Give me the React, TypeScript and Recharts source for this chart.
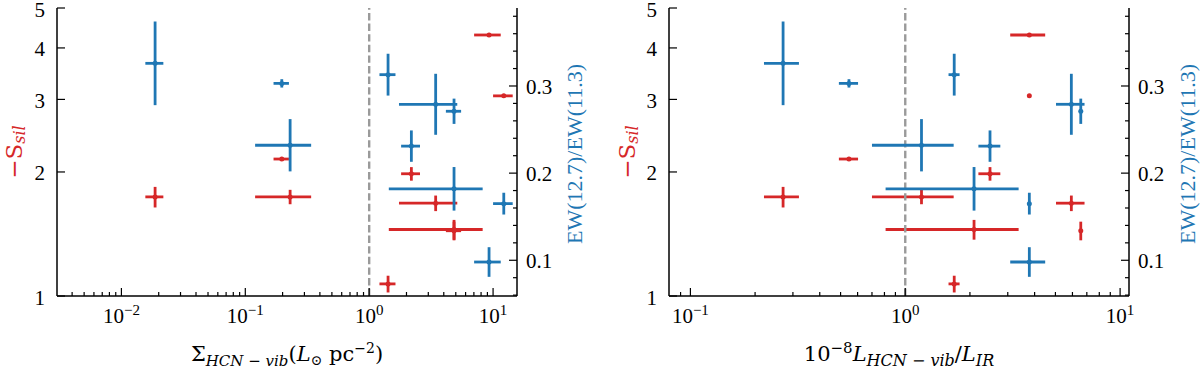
import { ErrorBar, ReferenceLine, Scatter, ScatterChart, XAxis, YAxis } from "recharts";

const RED = "#d62728";
const BLUE = "#1f77b4";
const TICK_FONT = "'Liberation Serif', 'Times New Roman', serif";
const MATH_FONT = "'DejaVu Serif', serif";

// ten sources, same order in every array
const sigmaHCN = [0.0187, 0.197, 0.23, 1.42, 2.19, 3.44, 4.84, 4.84, 9.28, 12.2];
const sigmaErr = [0.0031, 0.028, 0.11, 0.21, 0.38, 1.7, 3.4, 0.68, 2.25, 2.2];
const lumRatio = [0.27, 0.547, 1.19, 1.69, 2.48, 5.93, 2.09, 6.56, 3.78, 3.78];
const lumErr = [0.05, 0.056, 0.49, 0.1, 0.29, 0.9, 1.28, 0.08, 0.7, 0];
const ssil = [1.74, 2.15, 1.74, 1.07, 1.98, 1.68, 1.45, 1.44, 4.3, 3.06];
const ssilErr = [0.1, 0.01, 0.07, 0.05, 0.075, 0.073, 0.08, 0.075, 0.01, 0.01];
const ewRatio = [0.326, 0.303, 0.232, 0.313, 0.231, 0.279, 0.182, 0.271, 0.098, 0.165];
const ewErr = [0.048, 0.0048, 0.03, 0.024, 0.018, 0.035, 0.025, 0.0145, 0.017, 0.0125];

// tick positions
const sigmaTicks = [
  0.004, 0.005, 0.006, 0.007, 0.008, 0.009, 0.01,
  0.02, 0.03, 0.04, 0.05, 0.06, 0.07, 0.08, 0.09, 0.1,
  0.2, 0.3, 0.4, 0.5, 0.6, 0.7, 0.8, 0.9, 1,
  2, 3, 4, 5, 6, 7, 8, 9, 10,
];
const lumTicks = [
  0.09, 0.1, 0.2, 0.3, 0.4, 0.5, 0.6, 0.7, 0.8, 0.9, 1,
  2, 3, 4, 5, 6, 7, 8, 9, 10,
];
const ssilTicks = [1, 2, 3, 4, 5];
const ewTicks = [
  0.06, 0.08, 0.1, 0.12, 0.14, 0.16, 0.18, 0.2, 0.22, 0.24, 0.26, 0.28, 0.3,
  0.32, 0.34, 0.36, 0.38,
];
const ewLabelled = [0.1, 0.2, 0.3];

const sigmaDomain = [0.00302, 15.6];
const lumDomain = [0.0795, 11];
const ssilDomain = [1, 5];
const ewDomain = [0.059, 0.3895];

const isDecade = (v: number) => Math.abs(Math.log10(v) - Math.round(Math.log10(v))) < 1e-6;
const expText = (v: number) => {
  const e = Math.round(Math.log10(v));
  return e < 0 ? `\u2212${-e}` : `${e}`;
};

function BottomTick(props: any) {
  const { x, y, payload } = props;
  const major = isDecade(payload.value);
  return (
    <g>
      <line x1={x} x2={x} y1={y} y2={y - (major ? 8 : 4)} stroke="#000" strokeWidth={1.2} />
      {major && (
        <text x={x} y={y + 27} textAnchor="middle" fontFamily={TICK_FONT} fontSize={21} fill="#000">
          10
          <tspan dy={-8} fontSize={15}>
            {expText(payload.value)}
          </tspan>
        </text>
      )}
    </g>
  );
}

function TopTick(props: any) {
  const { x, y, payload } = props;
  const major = isDecade(payload.value);
  return <line x1={x} x2={x} y1={y} y2={y + (major ? 8 : 4)} stroke="#000" strokeWidth={1.2} />;
}

function LeftTick(props: any) {
  const { x, y, payload } = props;
  return (
    <g>
      <line x1={x} x2={x + 8} y1={y} y2={y} stroke="#000" strokeWidth={1.2} />
      <text x={x - 12} y={y} dy={8.5} textAnchor="end" fontFamily={TICK_FONT} fontSize={21} fill="#000">
        {payload.value}
      </text>
    </g>
  );
}

function RightTick(props: any) {
  const { x, y, payload } = props;
  const major = ewLabelled.some((t) => Math.abs(t - payload.value) < 1e-9);
  return (
    <g>
      <line x1={x} x2={x - (major ? 8 : 4)} y1={y} y2={y} stroke="#000" strokeWidth={1.2} />
      {major && (
        <text x={x + 9} y={y} dy={8} textAnchor="start" fontFamily={TICK_FONT} fontSize={21} fill="#000">
          {payload.value.toFixed(1)}
        </text>
      )}
    </g>
  );
}

const dot = (color: string) => (p: any) => <circle cx={p.cx} cy={p.cy} r={2.5} fill={color} />;

function SsilTitle({ viewBox, offset }: any) {
  const cx = viewBox.x + offset;
  const cy = viewBox.y + viewBox.height / 2;
  return (
    <text
      x={cx}
      y={cy}
      transform={`rotate(-90 ${cx} ${cy})`}
      textAnchor="middle"
      dominantBaseline="central"
      fontFamily={MATH_FONT}
      fontSize={23}
      fill={RED}
    >
      {"\u2212S"}
      <tspan dy={5} fontSize={16} fontStyle="italic">
        sil
      </tspan>
    </text>
  );
}

function EwTitle({ viewBox, offset }: any) {
  const cx = viewBox.x + offset;
  const cy = viewBox.y + viewBox.height / 2 + 2;
  return (
    <text
      x={cx}
      y={cy}
      transform={`rotate(-90 ${cx} ${cy})`}
      textAnchor="middle"
      dominantBaseline="central"
      fontFamily={TICK_FONT}
      fontSize={22}
      fill={BLUE}
    >
      EW(12.7)/EW(11.3)
    </text>
  );
}

function SigmaTitle({ viewBox }: any) {
  return (
    <text x={viewBox.x + viewBox.width / 2} y={viewBox.y + 65} textAnchor="middle" fontFamily={MATH_FONT} fontSize={21} fill="#000">
      {"\u03a3"}
      <tspan dy={5} fontSize={15} fontStyle="italic">
        {"HCN \u2212 vib"}
      </tspan>
      <tspan dy={-5}>(</tspan>
      <tspan fontStyle="italic">L</tspan>
      <tspan dy={4} fontSize={14}>
        {"\u2299"}
      </tspan>
      <tspan dy={-4}> pc</tspan>
      <tspan dy={-8} fontSize={14}>
        {"\u22122"}
      </tspan>
      <tspan dy={8}>)</tspan>
    </text>
  );
}

function LumTitle({ viewBox }: any) {
  return (
    <text x={viewBox.x + viewBox.width / 2} y={viewBox.y + 65} textAnchor="middle" fontFamily={MATH_FONT} fontSize={21} fill="#000">
      10
      <tspan dy={-8} fontSize={15}>
        {"\u22128"}
      </tspan>
      <tspan dy={8} fontStyle="italic">
        L
      </tspan>
      <tspan dy={5} fontSize={16} fontStyle="italic">
        {"HCN \u2212 vib"}
      </tspan>
      <tspan dy={-5}>/</tspan>
      <tspan fontStyle="italic">L</tspan>
      <tspan dy={5} fontSize={16} fontStyle="italic">
        IR
      </tspan>
    </text>
  );
}

interface PanelProps {
  xs: number[];
  xErr: number[];
  xDomain: number[];
  xTicks: number[];
  leftWidth: number;
  rightWidth: number;
  leftTitleOffset: number;
  rightTitleOffset: number;
  XTitle: (p: any) => any;
}

function Panel({ xs, xErr, xDomain, xTicks, leftWidth, rightWidth, leftTitleOffset, rightTitleOffset, XTitle }: PanelProps) {
  const redData = xs.map((x, i) => ({ x, y: ssil[i], ex: xErr[i], ey: ssilErr[i] }));
  const blueData = xs.map((x, i) => ({ x, y: ewRatio[i], ex: xErr[i], ey: ewErr[i] }));
  const axisLine = { stroke: "#000", strokeWidth: 1.5 };

  return (
    <ScatterChart width={600} height={370} margin={{ top: 8, right: 0, bottom: 0, left: 0 }}>
      <XAxis
        xAxisId="main"
        dataKey="x"
        type="number"
        scale="log"
        domain={xDomain}
        allowDataOverflow
        ticks={xTicks}
        interval={0}
        tickSize={0}
        tickMargin={0}
        tick={BottomTick}
        axisLine={axisLine}
        height={74}
        label={(p: any) => <XTitle {...p} />}
      />
      <XAxis
        xAxisId="top"
        orientation="top"
        type="number"
        scale="log"
        domain={xDomain}
        allowDataOverflow
        ticks={xTicks}
        interval={0}
        tickSize={0}
        tickMargin={0}
        tick={TopTick}
        axisLine={axisLine}
        height={0}
      />
      <YAxis
        yAxisId="left"
        dataKey="y"
        type="number"
        scale="log"
        domain={ssilDomain}
        allowDataOverflow
        ticks={ssilTicks}
        interval={0}
        tickSize={0}
        tickMargin={0}
        tick={LeftTick}
        axisLine={axisLine}
        width={leftWidth}
        label={(p: any) => <SsilTitle {...p} offset={leftTitleOffset} />}
      />
      <YAxis
        yAxisId="right"
        orientation="right"
        dataKey="y"
        type="number"
        domain={ewDomain}
        allowDataOverflow
        ticks={ewTicks}
        interval={0}
        tickSize={0}
        tickMargin={0}
        tick={RightTick}
        axisLine={axisLine}
        width={rightWidth}
        label={(p: any) => <EwTitle {...p} offset={rightTitleOffset} />}
      />
      <Scatter
        data={redData}
        xAxisId="main"
        yAxisId="left"
        fill={RED}
        shape={dot(RED)}
        isAnimationActive={false}
      >
        <ErrorBar dataKey="ex" direction="x" width={0} stroke={RED} strokeWidth={2.8} />
        <ErrorBar dataKey="ey" direction="y" width={0} stroke={RED} strokeWidth={2.8} />
      </Scatter>
      <ReferenceLine
        x={1}
        xAxisId="main"
        yAxisId="left"
        stroke="#9a9a9a"
        strokeWidth={2.4}
        strokeDasharray="7.4 3.2"
      />
      <Scatter
        data={blueData}
        xAxisId="main"
        yAxisId="right"
        fill={BLUE}
        shape={dot(BLUE)}
        isAnimationActive={false}
      >
        <ErrorBar dataKey="ex" direction="x" width={0} stroke={BLUE} strokeWidth={2.8} />
        <ErrorBar dataKey="ey" direction="y" width={0} stroke={BLUE} strokeWidth={2.8} />
      </Scatter>
    </ScatterChart>
  );
}

export default function App() {
  return (
    <div style={{ display: "flex", width: 1200, height: 370, background: "#fff" }}>
      <style>{"body{margin:0}"}</style>
      <Panel
        xs={sigmaHCN}
        xErr={sigmaErr}
        xDomain={sigmaDomain}
        xTicks={sigmaTicks}
        leftWidth={57}
        rightWidth={83}
        leftTitleOffset={14}
        rightTitleOffset={57}
        XTitle={SigmaTitle}
      />
      <Panel
        xs={lumRatio}
        xErr={lumErr}
        xDomain={lumDomain}
        xTicks={lumTicks}
        leftWidth={69}
        rightWidth={71}
        leftTitleOffset={27}
        rightTitleOffset={58}
        XTitle={LumTitle}
      />
    </div>
  );
}
